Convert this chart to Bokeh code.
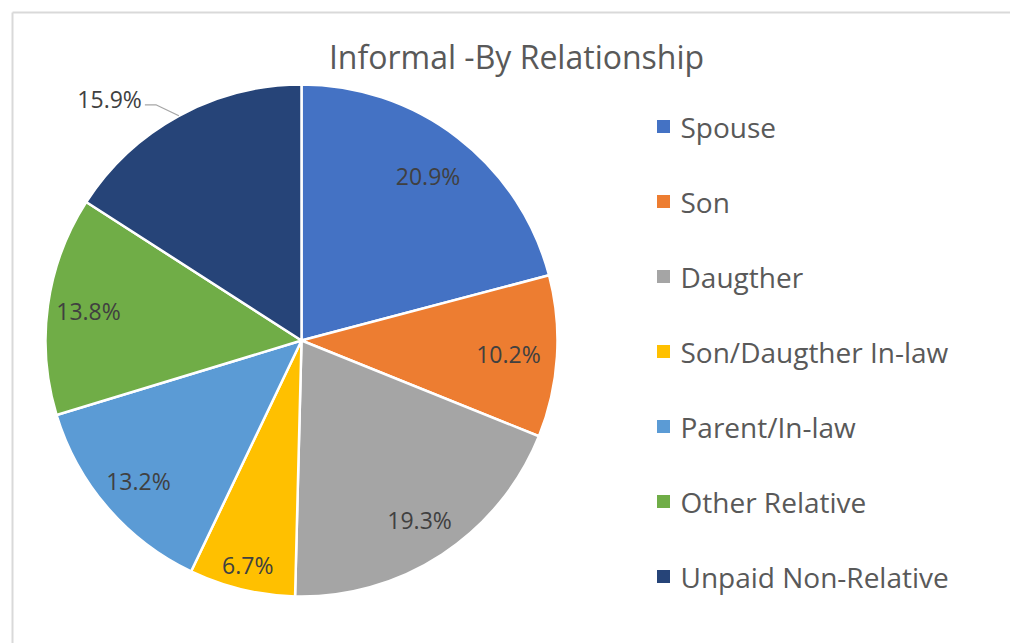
import numpy as np
from bokeh.plotting import figure
from bokeh.models import Range1d, ColumnDataSource
from bokeh.core.properties import value
from bokeh.embed import file_html
from bokeh.resources import INLINE

# ---- data ----
title = "Informal -By Relationship"
categories = ["Spouse", "Son", "Daugther", "Son/Daugther In-law",
              "Parent/In-law", "Other Relative", "Unpaid Non-Relative"]
percents = [20.9, 10.2, 19.3, 6.7, 13.2, 13.8, 15.9]
colors = ["#4472C4", "#ED7D31", "#A5A5A5", "#FFC000",
          "#5B9BD5", "#70AD47", "#264478"]

# ---- layout (pixel-aligned data space) ----
W, H = 1010, 643
FONT = "Open Sans"
cx, cy, R = 301, H - 340, 256
label_r = [0.81, 0.81, 0.84, 0.90, 0.84, 0.84, None]   # None -> outside with leader

p = figure(width=W, height=H, x_range=Range1d(0, W), y_range=Range1d(0, H),
           output_backend="svg", toolbar_location=None, min_border=0,
           x_axis_location=None, y_axis_location=None)
p.grid.visible = False
p.outline_line_color = None
p.background_fill_color = "white"
p.border_fill_color = "white"

# chart-area frame (left and top edges visible)
p.segment(x0=[12, 12], y0=[H - 12, H - 12], x1=[12, W], y1=[0, H - 12],
          line_color="#D9D9D9", line_width=2)

vals = np.array(percents, dtype=float)
frac = vals / vals.sum()
cum = np.concatenate([[0], np.cumsum(frac)[:-1]])
start = np.pi / 2 - 2 * np.pi * cum
end = start - 2 * np.pi * frac
mid = (start + end) / 2

src = ColumnDataSource(dict(cat=categories, val=percents, color=colors,
                            start=start, end=end))
p.wedge(x=cx, y=cy, radius=R, start_angle="start", end_angle="end",
        direction="clock", fill_color="color", line_color="white",
        line_width=2.5, source=src)

# data labels
lx, ly, lt = [], [], []
for i, v in enumerate(percents):
    txt = f"{v:.1f}%"
    if label_r[i] is not None:
        lx.append(cx + label_r[i] * R * np.cos(mid[i]))
        ly.append(cy + label_r[i] * R * np.sin(mid[i]))
        lt.append(txt)
    else:
        ex = cx + R * np.cos(mid[i])
        ey = cy + R * np.sin(mid[i])
        bx, by = ex - 23, ey + 11
        ax_, ay_ = bx - 11, by
        p.line(x=[ex, bx, ax_], y=[ey, by, ay_], line_color="#A6A6A6", line_width=1.3)
        p.text(x=[ax_ - 3], y=[ay_ + 6], text=[txt], text_align="right",
               text_baseline="middle", text_font=value(FONT),
               text_font_size="23px", text_color="#404040")
p.text(x=lx, y=ly, text=lt, text_align="center", text_baseline="middle",
       text_font=value(FONT), text_font_size="23px", text_color="#404040")

# title
p.text(x=[516], y=[H - 56], text=[title], text_align="center", text_baseline="middle",
       text_font=value(FONT), text_font_size="32px", text_color="#595959")

# legend
n = len(categories)
leg = ColumnDataSource(dict(cat=categories, color=colors,
                            y=[H - 126 - 75 * i for i in range(n)]))
p.rect(x=663, y="y", width=13, height=13, fill_color="color", line_color=None,
       source=leg)
p.text(x=680, y="y", text="cat", text_align="left", text_baseline="middle",
       text_font=value(FONT), text_font_size="28px", text_color="#595959",
       source=leg)

open("out.html", "w").write(file_html(p, INLINE))
